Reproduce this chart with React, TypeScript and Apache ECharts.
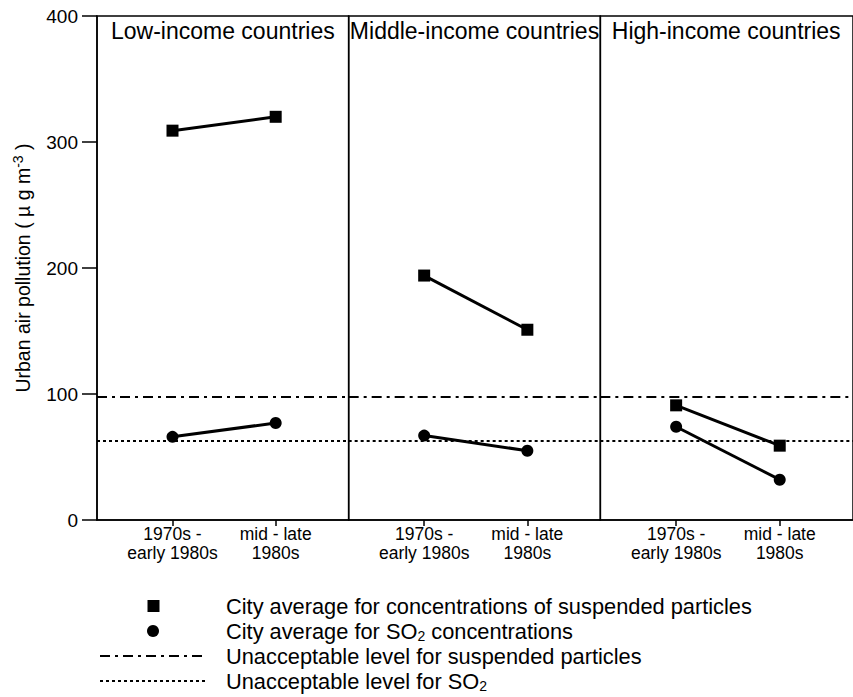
import React, { useEffect, useRef } from "react";
import * as echarts from "echarts";

const panelNames = ["Low-income countries", "Middle-income countries", "High-income countries"];
const periods = ["1970s -\nearly 1980s", "mid - late\n1980s"];
const particles = [
  [309, 320],
  [194, 151],
  [91, 59],
];
const so2 = [
  [66, 77],
  [67, 55],
  [74, 32],
];
const particleLimit = 98;
const so2Limit = 63;
const yMax = 400;
const yStep = 100;
const legendLabels = [
  "City average for concentrations of suspended particles",
  "City average for SO{sub|2} concentrations",
  "Unacceptable level for suspended particles",
  "Unacceptable level for SO{sub|2}",
];

const FONT = "'Liberation Sans', Arial, Helvetica, sans-serif";
const xPos = [0.3, 0.71];
const PLOT_LEFT = 97;
const PANEL_W = 251.67;
const PLOT_TOP = 16;
const PLOT_H = 504;
const DASH_DOT = [10, 5, 3, 5];
const DOTTED = [3, 3];

export default function App() {
  const ref = useRef<HTMLDivElement>(null);
  useEffect(() => {
    if (!ref.current) return;
    const chart = echarts.init(ref.current, null, { renderer: "svg" });

    const grids = panelNames.map((_, i) => ({
      left: PLOT_LEFT + i * PANEL_W,
      top: PLOT_TOP,
      width: i === 2 ? PANEL_W + 4 : PANEL_W,
      height: PLOT_H,
      show: true,
      borderColor: "#000",
      borderWidth: 1.5,
      backgroundColor: "transparent",
      containLabel: false,
    }));

    const xAxes = panelNames.map((_, i) => ({
      gridIndex: i,
      type: "value",
      min: 0,
      max: 1,
      axisLine: { show: true, lineStyle: { color: "#000", width: 1.5 } },
      axisTick: { show: true, customValues: xPos, length: 6, lineStyle: { color: "#000", width: 1.5 } },
      axisLabel: {
        customValues: xPos,
        formatter: (v: number) => {
          const k = xPos.findIndex((p) => Math.abs(p - v) < 1e-6);
          return k >= 0 ? periods[k] : "";
        },
        fontSize: 17.5,
        lineHeight: 19,
        color: "#000",
        margin: 4,
        fontFamily: FONT,
      },
      splitLine: { show: false },
    }));

    const yAxes = panelNames.map((_, i) => ({
      gridIndex: i,
      type: "value",
      min: 0,
      max: yMax,
      interval: yStep,
      show: i === 0,
      name: i === 0 ? "{n|Urban air pollution ( µ g m}{sup|-3}{n| )}" : "",
      nameLocation: "middle",
      nameGap: 62,
      nameRotate: 90,
      nameTextStyle: {
        fontFamily: FONT,
        color: "#000",
        rich: {
          n: { fontSize: 19.5, lineHeight: 24, fontFamily: FONT, color: "#000" },
          sup: { fontSize: 14, lineHeight: 12, verticalAlign: "top", fontFamily: FONT, color: "#000" },
        },
      },
      axisLine: { show: true, lineStyle: { color: "#000", width: 1.5 } },
      axisTick: { show: true, length: 15, lineStyle: { color: "#000", width: 1.5 } },
      axisLabel: { fontSize: 19, color: "#000", margin: 19, fontFamily: FONT },
      splitLine: { show: false },
    }));

    const series: any[] = [];
    panelNames.forEach((_, i) => {
      series.push({
        type: "line",
        xAxisIndex: i,
        yAxisIndex: i,
        data: particles[i].map((v, j) => [xPos[j], v]),
        symbol: "rect",
        symbolSize: 12,
        itemStyle: { color: "#000" },
        lineStyle: { color: "#000", width: 3 },
        z: 5,
        markLine: {
          silent: true,
          symbol: "none",
          label: { show: false },
          animation: false,
          data: [
            { yAxis: particleLimit, lineStyle: { color: "#000", width: 2, type: DASH_DOT } },
            { yAxis: so2Limit, lineStyle: { color: "#000", width: 2, type: DOTTED } },
          ],
        },
      });
      series.push({
        type: "line",
        xAxisIndex: i,
        yAxisIndex: i,
        data: so2[i].map((v, j) => [xPos[j], v]),
        symbol: "circle",
        symbolSize: 12,
        itemStyle: { color: "#000" },
        lineStyle: { color: "#000", width: 3 },
        z: 5,
      });
    });

    const graphics: any[] = [];
    panelNames.forEach((name, i) => {
      graphics.push({
        type: "text",
        x: PLOT_LEFT + i * PANEL_W + PANEL_W / 2,
        y: 31,
        style: {
          text: name,
          fontSize: 23,
          fontFamily: FONT,
          fill: "#000",
          textAlign: "center",
          textVerticalAlign: "middle",
        },
      });
    });

    const legendY = [606, 631, 656, 681];
    graphics.push({ type: "rect", shape: { x: 147.5, y: legendY[0] - 6, width: 12, height: 12 }, style: { fill: "#000" } });
    graphics.push({ type: "circle", shape: { cx: 153, cy: legendY[1], r: 6 }, style: { fill: "#000" } });
    graphics.push({
      type: "line",
      shape: { x1: 100, y1: legendY[2], x2: 206, y2: legendY[2] },
      style: { stroke: "#000", lineWidth: 2, lineDash: DASH_DOT },
    });
    graphics.push({
      type: "line",
      shape: { x1: 100, y1: legendY[3], x2: 206, y2: legendY[3] },
      style: { stroke: "#000", lineWidth: 2, lineDash: DOTTED },
    });
    legendLabels.forEach((label, k) => {
      const parts = label.split(/(\{sub\|[^}]*\})/).filter((s) => s.length > 0);
      const text = parts.map((p) => (p.startsWith("{sub|") ? p : `{n|${p}}`)).join("");
      graphics.push({
        type: "text",
        x: 226,
        y: legendY[k],
        style: {
          text,
          fontFamily: FONT,
          fill: "#000",
          textAlign: "left",
          textVerticalAlign: "middle",
          rich: {
            n: { fontSize: 21.8, lineHeight: 24, fontFamily: FONT, fill: "#000", color: "#000" },
            sub: { fontSize: 14, lineHeight: 14, verticalAlign: "bottom", fontFamily: FONT, fill: "#000", color: "#000" },
          },
        },
      });
    });

    chart.setOption({
      animation: false,
      backgroundColor: "#fff",
      grid: grids,
      xAxis: xAxes,
      yAxis: yAxes,
      series,
      graphic: graphics,
    });
    return () => chart.dispose();
  }, []);

  return (
    <div
      ref={ref}
      style={{ position: "fixed", left: 0, top: 0, width: 853, height: 697, background: "#fff" }}
    />
  );
}
